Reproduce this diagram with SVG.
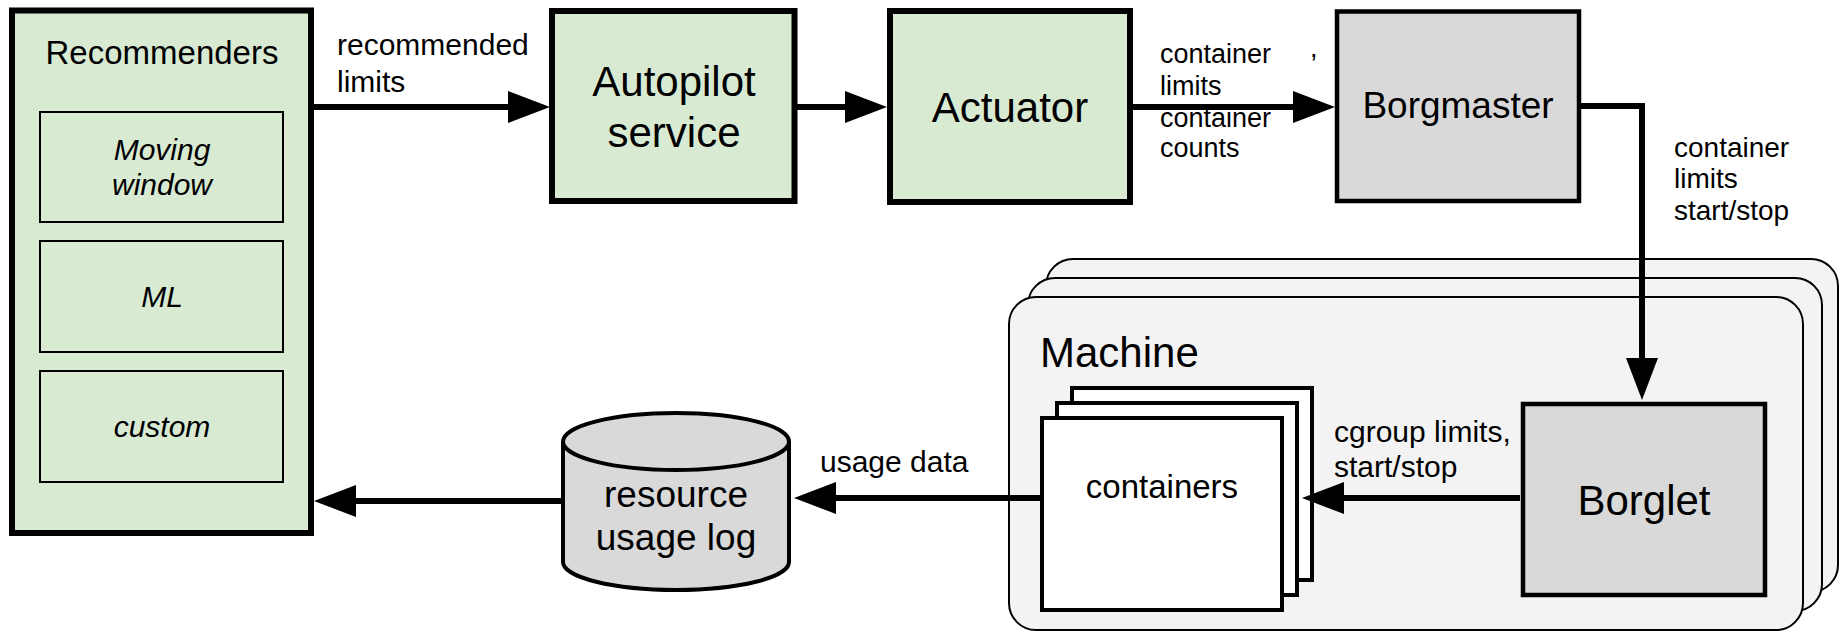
<svg xmlns="http://www.w3.org/2000/svg" width="1839" height="633" viewBox="0 0 1839 633">
<style>
text{font-family:"Liberation Sans",Arial,sans-serif;fill:#000}
.big{stroke:#000;stroke-width:6;fill:#d9ead3}
.inner{stroke:#000;stroke-width:2;fill:#d9ead3}
.gray{stroke:#000;stroke-width:4.5;fill:#d9d9d9}
.mach{stroke:#000;stroke-width:2;fill:#f3f3f3}
.cont{stroke:#000;stroke-width:4;fill:#fff}
.edge{fill:none;stroke:#000;stroke-width:6;marker-end:url(#ah)}
.lbl{font-size:30px}
.mid{text-anchor:middle}
.it{font-style:italic;font-size:30px;text-anchor:middle}
</style>
<defs>
<marker id="ah" markerUnits="userSpaceOnUse" viewBox="0 0 42 32" refX="1" refY="16" markerWidth="42" markerHeight="32" orient="auto">
<polygon points="0,0 42,16 0,32" fill="#000"/>
</marker>
</defs>
<rect width="1839" height="633" fill="#fff"/>
<g id="machine">
<rect class="mach" x="1046" y="259" width="792" height="333" rx="27"/>
<rect class="mach" x="1028" y="278" width="794" height="333" rx="27"/>
<rect class="mach" x="1009" y="297" width="794" height="333" rx="27"/>
<text x="1040" y="367" style="font-size:42px">Machine</text>
</g>
<g id="recommenders">
<rect class="big" x="12" y="10.5" width="299" height="522.5"/>
<text class="mid" x="162" y="64" style="font-size:33px">Recommenders</text>
<g id="moving-window">
<rect class="inner" x="40" y="112" width="243" height="110"/>
<text class="it" x="162" y="160">Moving</text>
<text class="it" x="162" y="195">window</text>
</g>
<g id="ml">
<rect class="inner" x="40" y="241" width="243" height="111"/>
<text class="it" x="162" y="307">ML</text>
</g>
<g id="custom">
<rect class="inner" x="40" y="371" width="243" height="111"/>
<text class="it" x="162" y="437">custom</text>
</g>
</g>
<g id="autopilot">
<rect class="big" x="552" y="11" width="242.5" height="190"/>
<text class="mid" x="674" y="96" style="font-size:42px">Autopilot</text>
<text class="mid" x="674" y="147" style="font-size:42px">service</text>
</g>
<g id="actuator">
<rect class="big" x="890" y="11" width="240" height="191"/>
<text class="mid" x="1010" y="122" style="font-size:42px">Actuator</text>
</g>
<g id="borgmaster">
<rect class="gray" x="1337" y="11.5" width="242" height="189.5"/>
<text class="mid" x="1458" y="118" style="font-size:37px">Borgmaster</text>
</g>
<g id="borglet">
<rect class="gray" x="1523" y="404" width="242" height="191"/>
<text class="mid" x="1644" y="515" style="font-size:42px">Borglet</text>
</g>
<g id="containers">
<rect class="cont" x="1072" y="388" width="240" height="192"/>
<rect class="cont" x="1057" y="403" width="240" height="192"/>
<rect class="cont" x="1042" y="418" width="240" height="192"/>
<text class="mid" x="1162" y="498" style="font-size:33px">containers</text>
</g>
<g id="resource-usage-log">
<path d="M563,441.5 V562 A113,28 0 0 0 789,562 V441.5" fill="#d9d9d9" stroke="#000" stroke-width="4"/>
<ellipse cx="676" cy="441.5" rx="113" ry="28.5" fill="#d9d9d9" stroke="#000" stroke-width="4"/>
<text class="mid" x="676" y="507" style="font-size:37px">resource</text>
<text class="mid" x="676" y="550" style="font-size:37px">usage log</text>
</g>
<g id="connectors">
<path class="edge" d="M314,107 H509"/>
<path class="edge" d="M797,107 H846"/>
<path class="edge" d="M1133,107 H1294"/>
<path class="edge" d="M1581,106 H1642 V359"/>
<path class="edge" d="M1520,498 H1343"/>
<path class="edge" d="M1041,498 H835"/>
<path class="edge" d="M563,501 H355"/>
</g>
<g id="labels">
<text class="lbl" x="337" y="55">recommended</text>
<text class="lbl" x="337" y="92">limits</text>
<text x="1160" y="63" style="font-size:27px">container</text>
<text x="1160" y="95" style="font-size:27px">limits</text>
<text x="1160" y="127" style="font-size:27px">container</text>
<text x="1160" y="157" style="font-size:27px">counts</text>
<text x="1310" y="57" style="font-size:27px">,</text>
<text x="1674" y="157" style="font-size:28px">container</text>
<text x="1674" y="188" style="font-size:28px">limits</text>
<text x="1674" y="220" style="font-size:28px">start/stop</text>
<text class="lbl" x="1334" y="442">cgroup limits,</text>
<text class="lbl" x="1334" y="477">start/stop</text>
<text class="lbl" x="820" y="472">usage data</text>
</g>
</svg>
